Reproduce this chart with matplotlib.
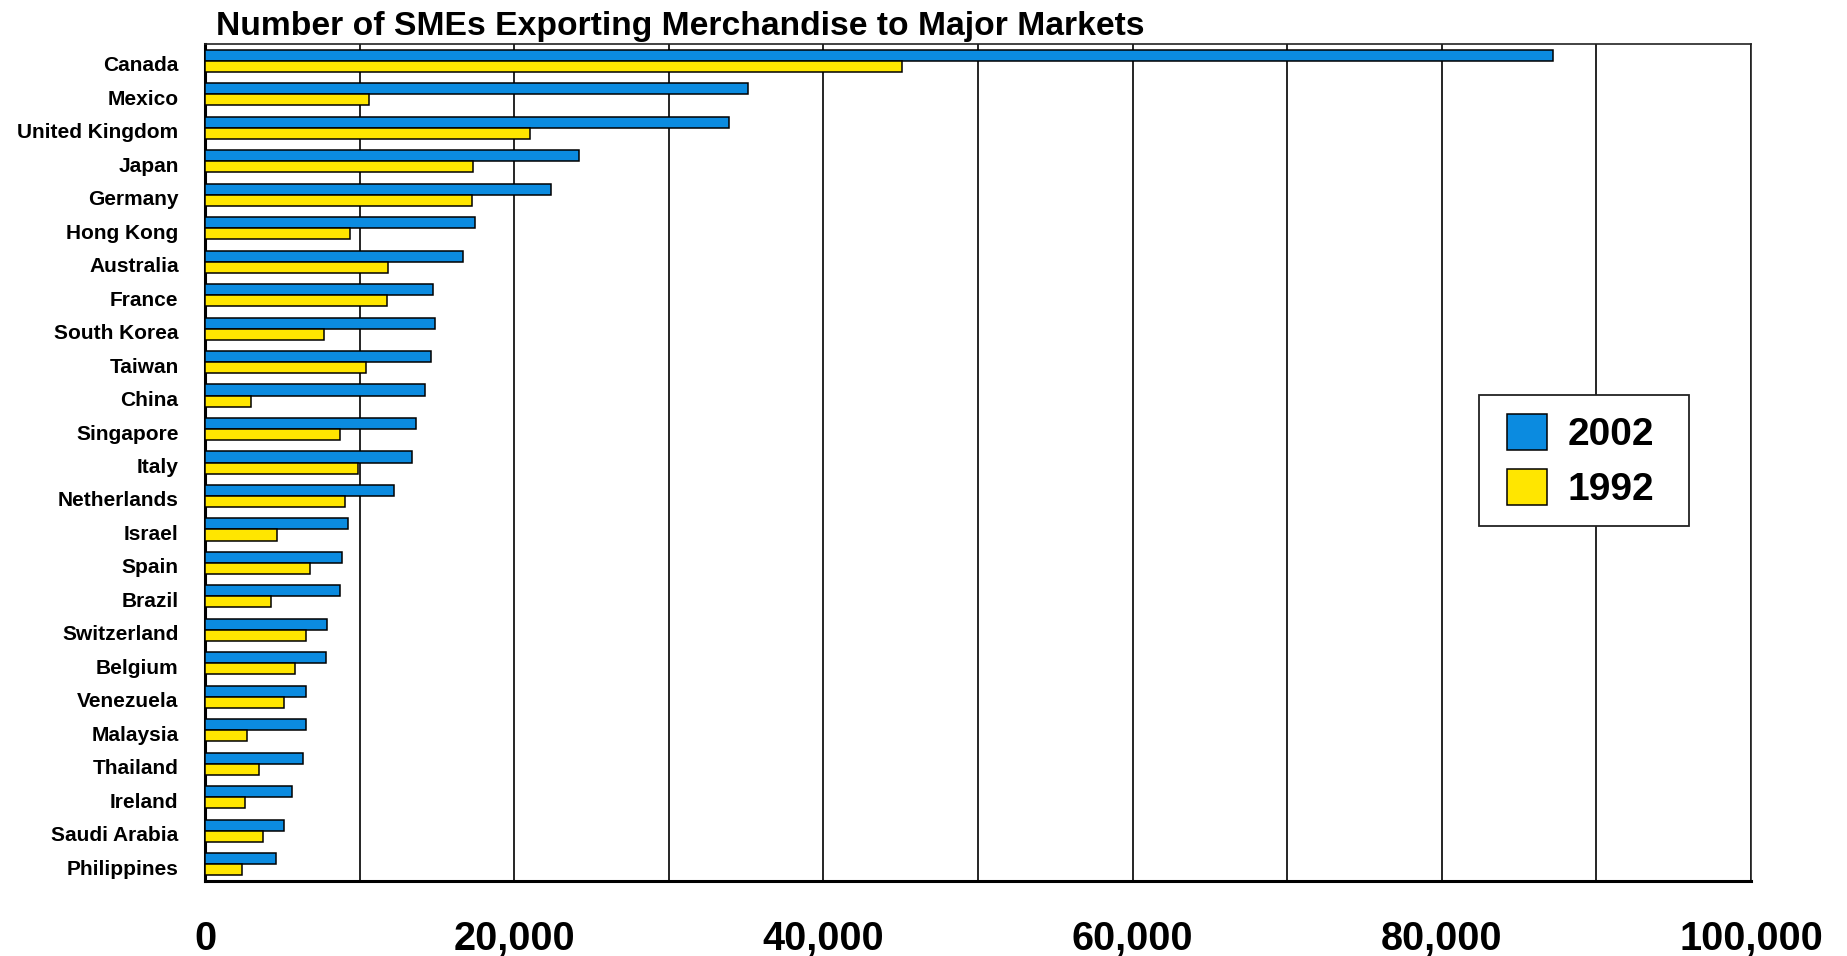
import numpy as np
import matplotlib
matplotlib.use("Agg")
import matplotlib.pyplot as plt
from matplotlib.patches import Patch, Rectangle
from matplotlib.ticker import MultipleLocator, FuncFormatter
from matplotlib.transforms import ScaledTranslation

# ---------------------------------------------------------------------------
# Data (number of SMEs exporting)
# ---------------------------------------------------------------------------
countries = [
    "Canada", "Mexico", "United Kingdom", "Japan", "Germany", "Hong Kong",
    "Australia", "France", "South Korea", "Taiwan", "China", "Singapore",
    "Italy", "Netherlands", "Israel", "Spain", "Brazil", "Switzerland",
    "Belgium", "Venezuela", "Malaysia", "Thailand", "Ireland",
    "Saudi Arabia", "Philippines",
]
smes_2002 = [
    87200, 35100, 33900, 24200, 22400, 17450,
    16700, 14750, 14900, 14600, 14200, 13650,
    13400, 12200, 9260, 8870, 8760, 7910,
    7800, 6540, 6540, 6350, 5610,
    5090, 4570,
]
smes_1992 = [
    45100, 10600, 21000, 17350, 17250, 9400,
    11850, 11800, 7700, 10400, 3000, 8760,
    9870, 9040, 4670, 6760, 4240, 6540,
    5830, 5090, 2700, 3500, 2590,
    3720, 2370,
]
series_labels = ["2002", "1992"]

BLUE = "#0B8BE0"
YELLOW = "#FFE600"
FONT = ["Liberation Sans", "DejaVu Sans"]

plt.rcParams["font.family"] = FONT
plt.rcParams["font.weight"] = "bold"

W, H = 1847, 956

# ---------------------------------------------------------------------------
# Plot
# ---------------------------------------------------------------------------
fig = plt.figure(figsize=(W / 100, H / 100), dpi=100)
ax = fig.add_axes([205 / W, 1 - 881 / H, 1546 / W, 837 / H])

y = np.arange(len(countries))
h = 0.33
ax.barh(y - h / 2, smes_2002, height=h, color=BLUE, edgecolor="black",
        linewidth=1.1, zorder=3, label=series_labels[0])
ax.barh(y + h / 2, smes_1992, height=h, color=YELLOW, edgecolor="black",
        linewidth=1.1, zorder=3, label=series_labels[1])

ax.set_xlim(0, 100000)
ax.set_ylim(len(countries) - 0.5, -0.5)

ax.xaxis.set_major_locator(MultipleLocator(20000))
ax.xaxis.set_minor_locator(MultipleLocator(10000))
ax.xaxis.set_major_formatter(FuncFormatter(lambda v, p: f"{v:,.0f}"))
ax.grid(axis="x", which="both", color="black", linewidth=1.2, zorder=1)
ax.set_axisbelow(True)

ax.set_yticks(y)
ax.set_yticklabels(countries, fontsize=15, fontweight="bold")
ax.tick_params(axis="y", length=0, pad=19)
ax.tick_params(axis="x", which="both", length=0, labelsize=28.5, pad=28)
for lbl in ax.get_xticklabels():
    lbl.set_fontweight("bold")
# nudge country names a bit lower, like the original
shift = ScaledTranslation(0, -3 / 100, fig.dpi_scale_trans)
for lbl in ax.get_yticklabels():
    lbl.set_transform(lbl.get_transform() + shift)

for side in ("left", "bottom"):
    ax.spines[side].set_linewidth(2.2)
    ax.spines[side].set_color("black")
for side in ("top", "right"):
    ax.spines[side].set_linewidth(1.2)
    ax.spines[side].set_color("#222222")

fig.text(216 / W, 1 - 35 / H,
         "Number of SMEs Exporting Merchandise to Major Markets",
         fontsize=24.2, fontweight="bold", ha="left", va="baseline")

# legend: box drawn separately so padding matches the original
frame = Rectangle((1479 / W, 1 - 526 / H), 210 / W, 131 / H,
                  transform=fig.transFigure, facecolor="white",
                  edgecolor="#222222", linewidth=1.3, zorder=3)
fig.add_artist(frame)

handles = [Patch(facecolor=BLUE, edgecolor="black", linewidth=1.1),
           Patch(facecolor=YELLOW, edgecolor="black", linewidth=1.1)]
leg = fig.legend(handles, series_labels, loc="upper left",
                 bbox_to_anchor=(1507 / W, 1 - 414 / H),
                 prop={"size": 28, "weight": "bold"},
                 frameon=False, borderpad=0, handlelength=1.03,
                 handleheight=1.05, handletextpad=0.52, labelspacing=0.4,
                 borderaxespad=0)
leg.set_zorder(5)

fig.savefig("out.png", dpi=100, facecolor="white")
